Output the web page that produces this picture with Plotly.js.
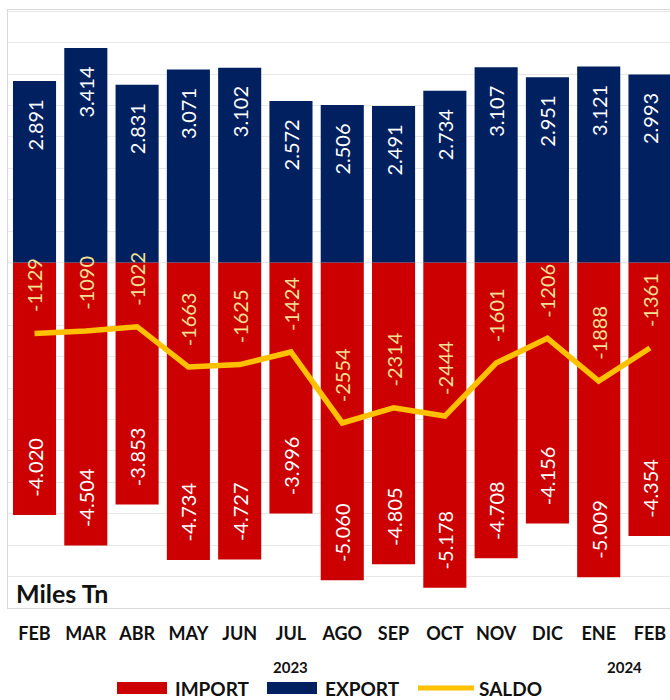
<!DOCTYPE html>
<html>
<head>
<meta charset="utf-8">
<script src="https://cdn.plot.ly/plotly-3.0.1.min.js"></script>
<style>
html,body{margin:0;padding:0;background:#fff;overflow:hidden;}
#chart{width:670px;height:700px;}
</style>
</head>
<body>
<div id="chart"></div>
<script>
const months = ['FEB','MAR','ABR','MAY','JUN','JUL','AGO','SEP','OCT','NOV','DIC','ENE','FEB'];
const exportVals = [2891,3414,2831,3071,3102,2572,2506,2491,2734,3107,2951,3121,2993];
const importVals = [-4020,-4504,-3853,-4734,-4727,-3996,-5060,-4805,-5178,-4708,-4156,-5009,-4354];
const saldoVals = [-1129,-1090,-1022,-1663,-1625,-1424,-2554,-2314,-2444,-1601,-1206,-1888,-1361];
const years = [{label:'2023', pos:5}, {label:'2024', pos:11.5}];

const idx = months.map((m,i)=>i);
const NB = '\u00A0';
function fmt(v){
  const s = v < 0 ? '-' : '';
  const a = Math.abs(v);
  const th = Math.floor(a/1000);
  const r = String(a % 1000).padStart(3,'0');
  return th > 0 ? s + th + '.' + r : s + String(a);
}
const expText = exportVals.map(v => fmt(v) + NB+NB+NB);
const impText = importVals.map(v => NB+NB+NB + fmt(v));

const FONT = 'Lato, "Open Sans", sans-serif';
const W = 670, H = 700;
const mL = 8, mR = 0, mT = 10, mB = 92;
const plotW = W - mL - mR, plotH = H - mT - mB;
const px = x => (x - mL) / plotW;
const py = y => (H - mB - y) / plotH;

const traces = [
  {type:'bar', x: idx, y: importVals, name:'IMPORT', marker:{color:'#CC0000'},
   text: impText, textposition:'inside', insidetextanchor:'end', textangle:-90,
   textfont:{family:FONT, size:20, color:'#ffffff'}, constraintext:'none', hoverinfo:'skip'},
  {type:'bar', x: idx, y: exportVals, name:'EXPORT', marker:{color:'#002060'},
   text: expText, textposition:'inside', insidetextanchor:'end', textangle:-90,
   textfont:{family:FONT, size:20, color:'#ffffff'}, constraintext:'none', hoverinfo:'skip'},
  {type:'scatter', mode:'lines', x: idx, y: saldoVals, name:'SALDO',
   line:{color:'#FFC000', width:5.5}, hoverinfo:'skip'}
];

const annotations = saldoVals.map((v,i)=>({
  x: i, y: v, xref:'x', yref:'y', text: String(v), showarrow:false,
  textangle:-90, xanchor:'center', yanchor:'bottom', yshift:19,
  font:{family:FONT, size:20, color:'#F5E196'}
}));
years.forEach(yv => annotations.push({
  x: yv.pos, xref:'x', y: py(667), yref:'paper', text: yv.label, showarrow:false,
  xanchor:'center', yanchor:'middle', font:{family:FONT, size:15, color:'#111', weight:700}
}));
annotations.push({
  x: px(14), y: py(593), xref:'paper', yref:'paper', text:'Miles Tn', showarrow:false,
  xanchor:'left', yanchor:'middle', font:{family:FONT, size:25, color:'#111', weight:700}
});
// custom legend
const legendItems = [
  {label:'IMPORT', color:'#CC0000', kind:'rect', x0:117, x1:167, tx:173},
  {label:'EXPORT', color:'#002060', kind:'rect', x0:267, x1:317, tx:323},
  {label:'SALDO', color:'#FFC000', kind:'line', x0:418, x1:474, tx:477}
];
const shapes = [];
legendItems.forEach(it => {
  if (it.kind === 'rect') {
    shapes.push({type:'rect', xref:'paper', yref:'paper', x0:px(it.x0), x1:px(it.x1),
      y0:py(694), y1:py(682), fillcolor:it.color, line:{width:0}});
  } else {
    shapes.push({type:'line', xref:'paper', yref:'paper', x0:px(it.x0), x1:px(it.x1),
      y0:py(688), y1:py(688), line:{color:it.color, width:5}});
  }
  annotations.push({x:px(it.tx), y:py(688), xref:'paper', yref:'paper', text:it.label,
    showarrow:false, xanchor:'left', yanchor:'middle',
    font:{family:FONT, size:19, color:'#111', weight:700}});
});

const layout = {
  width: W, height: H,
  margin:{l:mL, r:mR, t:mT, b:mB, pad:0},
  paper_bgcolor:'#ffffff', plot_bgcolor:'#ffffff',
  barmode:'relative', bargap:0.16,
  showlegend:false,
  xaxis:{range:[-0.517, 12.39], tickvals: idx, ticktext: months, showgrid:false,
    zeroline:false, showline:true, mirror:true, linecolor:'#d9d9d9', linewidth:1,
    ticks:'', ticklabelstandoff:9,
    tickfont:{family:FONT, size:18, color:'#111', weight:700}, fixedrange:true},
  yaxis:{range:[-5500, 4020], dtick:500, tick0:0, showticklabels:false, showgrid:true,
    gridcolor:'#e8e8e8', zeroline:false, showline:true, mirror:true, linecolor:'#d9d9d9',
    linewidth:1, ticks:'', fixedrange:true},
  annotations: annotations,
  shapes: shapes,
  font:{family:FONT}
};

Plotly.newPlot('chart', traces, layout, {displayModeBar:false, staticPlot:true});
</script>
</body>
</html>
